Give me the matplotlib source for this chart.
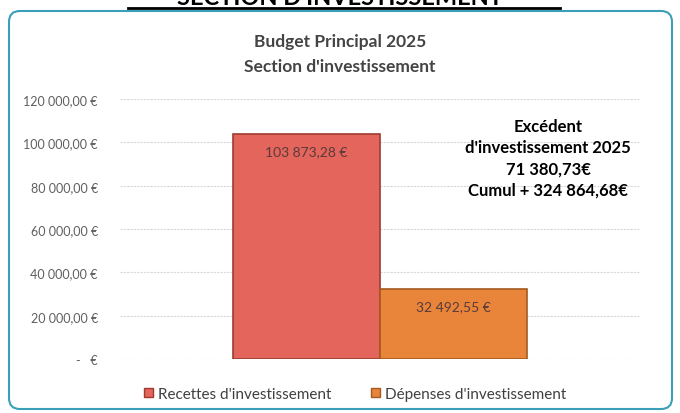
import matplotlib.pyplot as plt
from matplotlib.patches import FancyBboxPatch, Rectangle
from matplotlib.lines import Line2D

# Data
series = ["Recettes d'investissement", "Dépenses d'investissement"]
values = [103873.28, 32492.55]
value_labels = ["103 873,28 €", "32 492,55 €"]
bar_colors = ["#e3655b", "#e8853a"]
edge_colors = ["#9e3b30", "#a55a20"]
yticks = [0, 20000, 40000, 60000, 80000, 100000, 120000]
ytick_labels = ["-   €", "20 000,00 €", "40 000,00 €", "60 000,00 €",
                "80 000,00 €", "100 000,00 €", "120 000,00 €"]
note = "Excédent\nd'investissement 2025\n71 380,73€\nCumul + 324 864,68€"

plt.rcParams['font.family'] = ['Lato', 'DejaVu Sans']

fig = plt.figure(figsize=(6.8, 4.14), dpi=100)
W, H = 680, 414

# heading of the page, cut off at the top of the scan
fig.text(0.5, 1 - 5 / H, "SECTION D'INVESTISSEMENT", ha='center', va='baseline',
         fontsize=17, fontweight='bold', color='black')
fig.add_artist(Line2D([128 / W, 560 / W], [1 - 9 / H, 1 - 9 / H], color='black', lw=2))

# chart frame
frame = FancyBboxPatch((9 / W, 4 / H), 663 / W, (H - 16) / H,
                       boxstyle="round,pad=0,rounding_size=0.016",
                       transform=fig.transFigure, fill=False,
                       edgecolor='#3a9fb8', lw=1.5, mutation_aspect=W / H)
fig.add_artist(frame)

ax = fig.add_axes([120 / W, (H - 360) / H, 520 / W, 260 / H])
ax.set_ylim(0, 120000)
ax.set_xlim(-1.77, 1.77)

width = 1.0
xs = [-0.5, 0.5]
for x, v, c, ec, lab in zip(xs, values, bar_colors, edge_colors, value_labels):
    ax.bar(x, v, width=width, color=c, edgecolor=ec, lw=1.2, zorder=3)
    ax.text(x, v - 8000, lab, ha='center', va='center', fontsize=10,
            color='#5a3a3a', zorder=4)

ax.set_yticks(yticks)
ax.set_yticklabels(ytick_labels)
ax.tick_params(axis='y', length=0, pad=16, labelsize=9, labelcolor='#5f5f5f')
ax.set_xticks([])
ax.grid(axis='y', color='#d8d8d8', lw=0.8, ls=(0, (2, 1)), zorder=0)
for s in ax.spines.values():
    s.set_visible(False)

fig.text(340 / W, 1 - 42 / H, "Budget Principal 2025", ha='center', va='center',
         fontsize=12.5, fontweight='bold', color='#444444')
fig.text(340 / W, 1 - 67 / H, "Section d'investissement", ha='center', va='center',
         fontsize=12.5, fontweight='bold', color='#444444')

fig.text(548 / W, 1 - 159 / H, note, ha='center', va='center', fontsize=12,
         fontweight='bold', color='black', linespacing=1.4)

# legend
handles = [Rectangle((0, 0), 1, 1, facecolor=c, edgecolor=ec)
           for c, ec in zip(bar_colors, edge_colors)]
fig.legend(handles, series, loc='center', bbox_to_anchor=(355 / W, 1 - 395 / H),
           ncol=2, frameon=False, fontsize=11, handlelength=0.6, handleheight=0.6,
           handletextpad=0.3, columnspacing=2.6, labelcolor='#404040')

fig.savefig('out.png', dpi=100)
